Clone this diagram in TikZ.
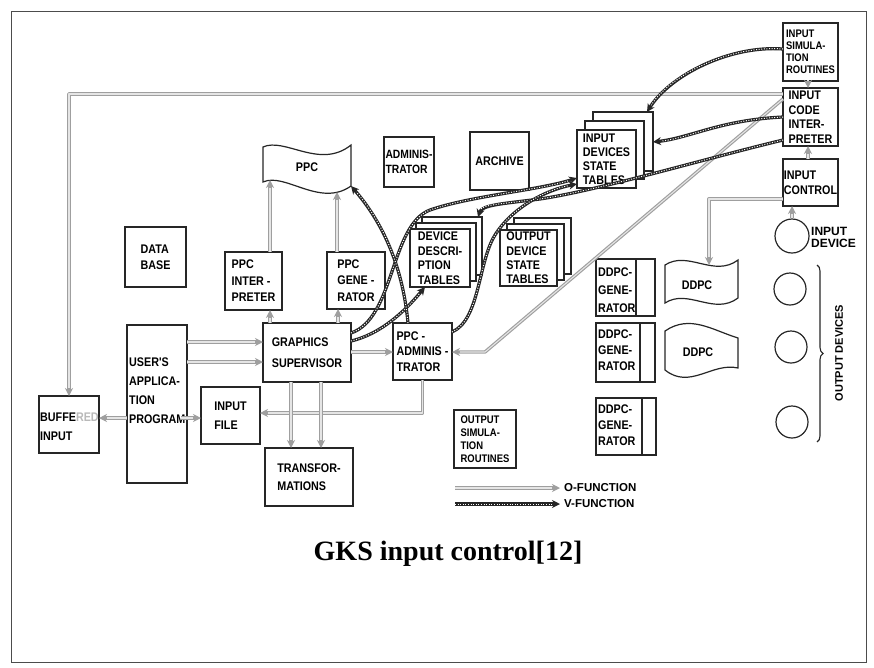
\documentclass[tikz,border=0pt]{standalone}
\usepackage{fontspec}
\setmainfont{Liberation Serif}
\newfontfamily\gfont{Liberation Sans}[FakeStretch=0.86]
\newfontfamily\lfont{Liberation Sans}
\usetikzlibrary{arrows.meta,decorations.pathreplacing,calc}
\begin{document}
\begin{tikzpicture}[x=1pt,y=-1pt,
  box/.style 2 args={draw=black!85, line width=1.2pt, fill=white, inner xsep=0.5pt, inner ysep=1pt, outer sep=0pt, minimum width=#1, minimum height=#2, align=left},
  boxline/.style={draw=black!85, line width=1.2pt},
  ls/.style={font=\gfont\bfseries\fontsize{12.5}{#1}\selectfont},
  lss/.style={font=\gfont\bfseries\fontsize{11}{#1}\selectfont},
  lab/.style={font=\lfont\bfseries\fontsize{#1}{12}\selectfont, inner sep=0pt, align=left},
  txt/.style={align=left, inner sep=0pt},
  ofun/.style={draw=gray!75, line width=3.4pt, line join=round, -{Stealth[length=8pt,width=8pt]}, postaction={draw=gray!20, line width=1.1pt, -, shorten >=8pt}},
  vfun/.style={draw=black!85, line width=3.2pt, line join=round, -{Stealth[length=8pt,width=8pt]}, postaction={draw=white, line width=1pt, dash pattern=on 1pt off 1.6pt, -, shorten >=8pt}},
  dev/.style={circle, draw=black!85, line width=1.2pt, inner sep=0pt, minimum size=#1}
]
\useasboundingbox (0,0) rectangle (874,667);
\draw[black!70, line width=0.9pt] (11,11) rectangle (866,662);

% right column
\node[box={55pt}{58pt}, lss=12] (isr) at (810.5,52) {INPUT\\SIMULA-\\TION\\ROUTINES};
\node[box={55pt}{58pt}, ls=14.5] (ici) at (810.5,117) {INPUT\\CODE\\INTER-\\PRETER};
\node[box={55pt}{47pt}, ls=15] (ic) at (810.5,182.5) {INPUT\\CONTROL};
\node[dev=34pt] (indev) at (792,236) {};
\node[lab=12, anchor=west] (indevl) at (811,237) {INPUT\\DEVICE};
\node[dev=32pt] (out1) at (790,289) {};
\node[dev=32pt] (out2) at (791,347) {};
\node[dev=32pt] (out3) at (792,422) {};
\draw[black!85, line width=1.1pt, decorate, decoration={brace, amplitude=6pt}] (817,265) -- (817,442);
\node[lab=11, rotate=90] (outdev) at (839,353) {OUTPUT DEVICES};

% input device state tables
\node[box={60pt}{59pt}] (idst3) at (623,141.5) {};
\node[box={59pt}{58pt}] (idst2) at (614.5,150) {};
\node[box={59pt}{58pt}, ls=14] (idst) at (606.5,159) {INPUT\\DEVICES\\STATE\\TABLES};

% admin, archive
\node[box={50pt}{50pt}, font=\gfont\bfseries\fontsize{12}{15}\selectfont] (adm) at (409,162) {ADMINIS-\\TRATOR};
\node[box={59pt}{58pt}, ls=14] (arch) at (499.5,161) {ARCHIVE};

% device description tables
\node[box={60pt}{58pt}] (ddt3) at (452,246) {};
\node[box={60pt}{58pt}] (ddt2) at (446,252) {};
\node[box={60pt}{58pt}, ls=14.5] (ddt) at (440,258) {DEVICE\\DESCRI-\\PTION\\TABLES};

% output device state tables
\node[box={57pt}{56pt}] (odst3) at (542.5,246) {};
\node[box={57pt}{56pt}] (odst2) at (535.5,252) {};
\node[box={57pt}{56pt}, ls=14.3] (odst) at (528.5,258) {OUTPUT\\DEVICE\\STATE\\TABLES};

% DDPC generators
\node[box={59pt}{57pt}] (dg1) at (625.5,287.5) {};
\draw[boxline] ([xshift=40pt]dg1.north west) -- ([xshift=40pt]dg1.south west);
\node[txt, ls=18, anchor=west] (dg1t) at ([xshift=2pt,yshift=-2.5pt]dg1.west) {DDPC-\\GENE-\\RATOR};
\node[box={59pt}{59pt}] (dg2) at (625.5,352.5) {};
\draw[boxline] ([xshift=44pt]dg2.north west) -- ([xshift=44pt]dg2.south west);
\node[txt, ls=16, anchor=west] (dg2t) at ([xshift=2pt,yshift=2.5pt]dg2.west) {DDPC-\\GENE-\\RATOR};
\node[box={60pt}{57pt}] (dg3) at (626,426.5) {};
\draw[boxline] ([xshift=46pt]dg3.north west) -- ([xshift=46pt]dg3.south west);
\node[txt, ls=16, anchor=west] (dg3t) at ([xshift=2pt,yshift=1.5pt]dg3.west) {DDPC-\\GENE-\\RATOR};

% DDPC flags
\draw[boxline, fill=white] (665,265) .. controls (688,250) and (714,278) .. (738,260) -- (738,298) .. controls (714,316) and (688,288) .. (665,303) -- cycle;
\node[ls=14] (ddpc1) at (697,285) {DDPC};
\coordinate (ddpcA) at (709,265);
\draw[boxline, fill=white] (665,331) .. controls (690,314) and (712,330) .. (738,338) -- (738,368) .. controls (712,362) and (690,390) .. (665,370) -- cycle;
\node[ls=14] (ddpc2) at (698,352) {DDPC};

% PPC flag
\draw[boxline, fill=white] (263,147) .. controls (285,137) and (320,170) .. (351,145) -- (351,186) .. controls (320,208) and (285,172) .. (263,182) -- cycle;
\node[ls=14] (ppc) at (307,167) {PPC};
\coordinate (ppcA) at (270,180);
\coordinate (ppcB) at (337,192);
\coordinate (ppcC) at (351,186);

% left / middle boxes
\node[box={61pt}{60pt}, ls=16] (db) at (155.5,257) {DATA\\BASE};
\node[box={57pt}{58pt}, ls=16.5] (pi) at (253.5,281) {PPC\\INTER -\\PRETER};
\node[box={58pt}{57pt}, ls=16.5] (pg) at (356,280.5) {PPC\\GENE -\\RATOR};
\node[box={88pt}{59pt}, ls=21] (gs) at (307,352.5) {GRAPHICS\\SUPERVISOR};
\node[box={59pt}{57pt}, ls=15.5] (pa) at (422.5,351.5) {PPC -\\ADMINIS -\\TRATOR};
\node[box={60pt}{158pt}] (uap) at (157,404) {};
\node[txt, ls=19, anchor=west] (uapt) at ([xshift=2pt,yshift=13pt]uap.west) {USER'S\\APPLICA-\\TION\\PROGRAM};
\node[box={60pt}{57pt}] (bi) at (69,424.5) {};
\node[txt, ls=19, anchor=west] (bit) at ([xshift=1pt,yshift=-2pt]bi.west) {BUFFE\textcolor{gray!55}{RED}\\INPUT};
\node[box={59pt}{57pt}, ls=19] (if) at (230.5,415.5) {INPUT\\FILE};
\node[box={88pt}{58pt}, ls=18] (tr) at (309,477) {TRANSFOR-\\MATIONS};
\node[box={62pt}{58pt}, lss=13] (osr) at (485,439) {OUTPUT\\SIMULA-\\TION\\ROUTINES};

% legend
\coordinate (ostart) at (455,488);
\coordinate (vstart) at (455,504);
\node[lab=11.5, anchor=west] (ofl) at (564,488) {O-FUNCTION};
\node[lab=11.5, anchor=west] (vfl) at (564,504) {V-FUNCTION};
\draw[ofun] (ostart) -- ([xshift=-4pt]ofl.west);
\draw[vfun] (vstart) -- ([xshift=-4pt]vfl.west);

% caption
\node[font=\bfseries\fontsize{28}{32}\selectfont, anchor=base, inner sep=0pt] (cap) at (448,560) {GKS input control[12]};

% O-function connectors
\draw[ofun] (uap.east |- 0,342) -- (gs.west |- 0,342);
\draw[ofun] (uap.east |- 0,362) -- (gs.west |- 0,362);
\draw[ofun] (uap.west |- 0,418) -- (bi.east |- 0,418);
\draw[ofun] ([xshift=-6pt]uap.east |- 0,418) -- (if.west |- 0,418);
\draw[ofun] (pa.south) -- (pa.south |- 0,413) -- (if.east |- 0,413);
\draw[ofun] (gs.south -| 291,0) -- (tr.north -| 291,0);
\draw[ofun] (gs.south -| 321,0) -- (tr.north -| 321,0);
\draw[ofun] (gs.north -| 270,0) -- (pi.south -| 270,0);
\draw[ofun] (gs.north -| 338,0) -- (pg.south -| 338,0);
\draw[ofun] (pi.north -| ppcA) -- (ppcA);
\draw[ofun] (pg.north -| ppcB) -- (ppcB);
\draw[ofun] (gs.east |- 0,352) -- (pa.west |- 0,352);
\draw[ofun] ([xshift=-2.5pt]isr.south) -- ([xshift=-2.5pt]ici.north);
\draw[ofun] ([xshift=-2.5pt]ic.north) -- ([xshift=-2.5pt]ici.south);
\draw[ofun] (indev.north) -- (indev.north |- ic.south);
\draw[ofun] (ic.west |- 0,199) -| (ddpcA);
\draw[ofun] (ici.west |- 0,94) -| (bi.north);
\coordinate (bend1) at (485,352);
\draw[ofun] (ici.west |- 0,99) -- (bend1) -- (pa.east |- 0,352);

% V-function connectors
\draw[vfun] (isr.west |- 0,49) .. controls (730,45) and (670,75) .. ([xshift=-6pt]idst3.north east);
\draw[vfun] (ici.west |- 0,117) .. controls (720,120) and (690,138) .. (idst3.east |- 0,142);
\draw[vfun] (ici.west |- 0,140) .. controls (700,160) and (600,190) .. (540,199) .. controls (500,204) and (482,205) .. ([xshift=-4pt]ddt3.north east);
\draw[vfun] (gs.east |- 0,333) .. controls (395,318) and (390,225) .. (430,210) .. controls (470,196) and (540,190) .. (idst.west |- 0,178);
\draw[vfun] (gs.east |- 0,341) .. controls (385,333) and (410,305) .. ([xshift=15pt]ddt.south west);
\draw[vfun] (pa.east |- 0,332) .. controls (480,320) and (478,262) .. (495,235) .. controls (512,208) and (545,190) .. (idst.west |- 0,184);
\draw[vfun] (pa.north -| 408,0) .. controls (403,270) and (385,225) .. (ppcC);
\end{tikzpicture}
\end{document}
